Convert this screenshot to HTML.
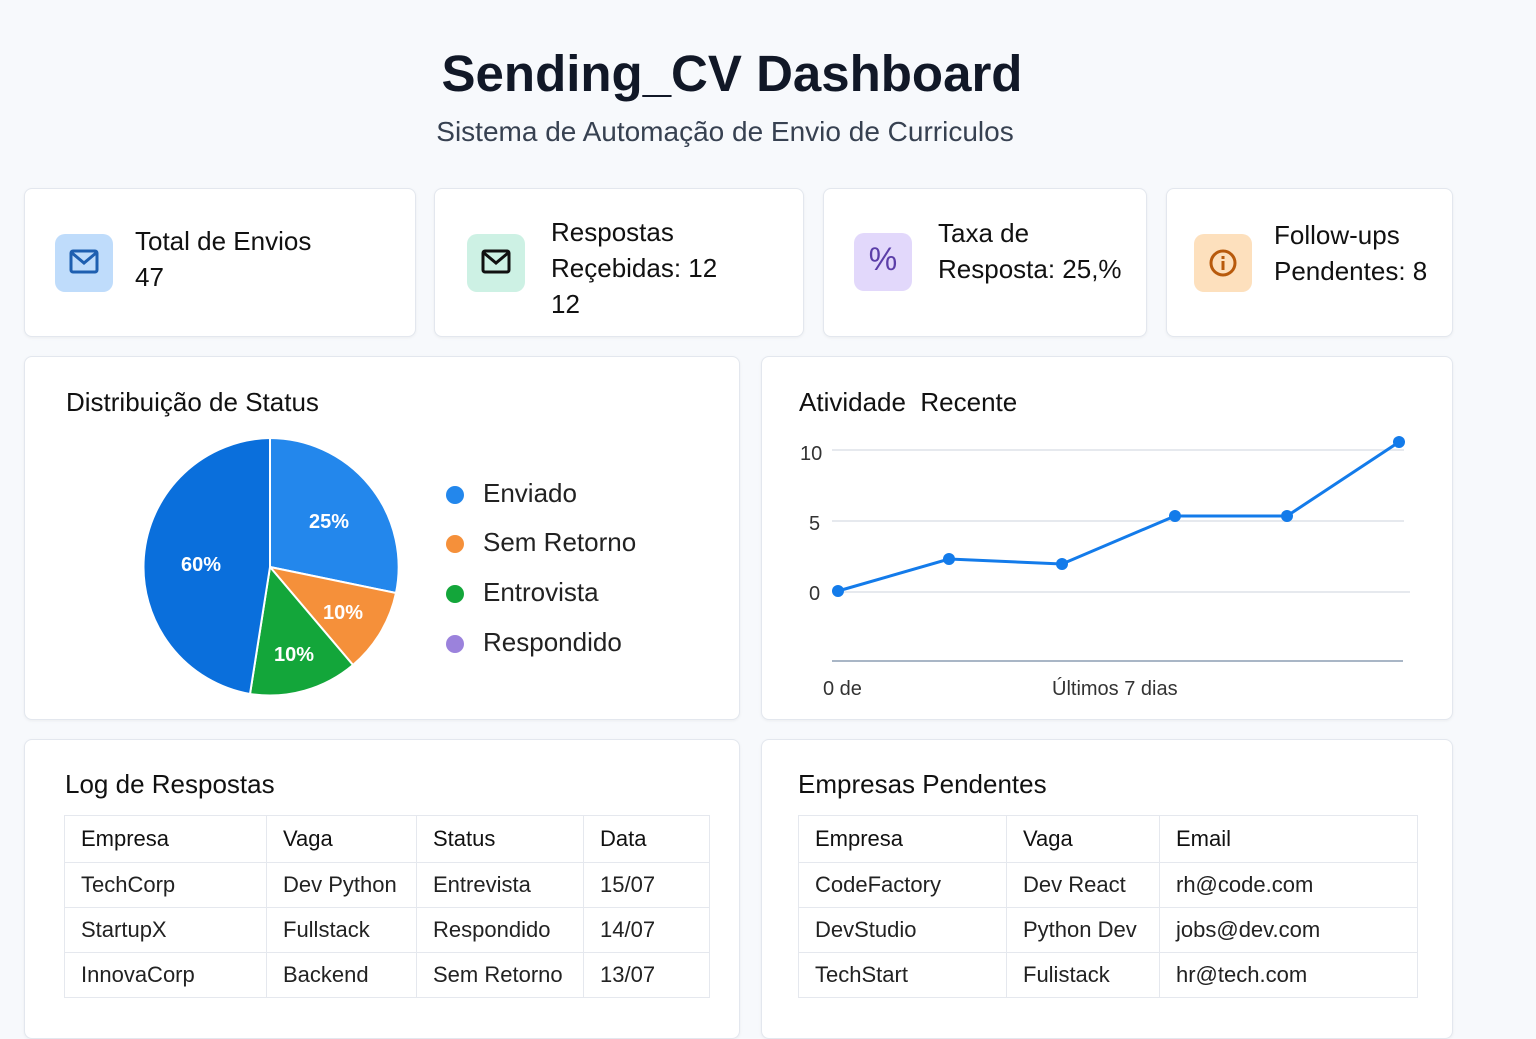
<!DOCTYPE html>
<html><head><meta charset="utf-8"><style>
*{box-sizing:border-box;margin:0;padding:0}
body{width:1536px;height:1024px;background:#f7f9fc;font-family:"Liberation Sans",sans-serif;color:#111827;position:relative;overflow:hidden}
.a{position:absolute}
.card{position:absolute;background:#fff;border:1px solid #e3e7ee;border-radius:8px;box-shadow:0 1px 3px rgba(0,0,0,.05)}
.ic{position:absolute;width:58px;height:58px;border-radius:10px}
.ct{position:absolute;font-size:26px;line-height:36px;color:#111}
h2{position:absolute;font-size:26px;font-weight:normal;color:#111}
table{position:absolute;border-collapse:collapse;font-size:22px;color:#222}
td,th{border:1px solid #e5e8ee;padding:0 16px;height:45px;text-align:left;font-weight:normal}
th{height:47px;color:#111}
.lg{position:absolute;font-size:26px;color:#222}
.lg i{position:absolute;left:-37px;top:8px;width:18px;height:18px;border-radius:50%}
</style></head><body>
<div class="a" style="left:0;top:44px;width:1464px;text-align:center;font-size:51px;font-weight:bold;color:#111827">Sending_CV Dashboard</div>
<div class="a" style="left:0;top:116px;width:1450px;text-align:center;font-size:28px;color:#374151">Sistema de Automação de Envio de Curriculos</div>

<div class="card" style="left:24px;top:188px;width:392px;height:149px">
<div class="ic" style="left:30px;top:45px;background:#bfdcfb"></div>
<svg class="a" style="left:44px;top:60px" width="30" height="26"><rect x="2" y="2" width="26" height="21" rx="2" fill="none" stroke="#1e5fb0" stroke-width="3"/><path d="M3 4 L15 14 L27 4" fill="none" stroke="#1e5fb0" stroke-width="3"/></svg>
<div class="ct" style="left:110px;top:34px">Total de Envios<br>47</div></div>

<div class="card" style="left:434px;top:188px;width:370px;height:149px">
<div class="ic" style="left:32px;top:45px;background:#cdf1e4"></div>
<svg class="a" style="left:46px;top:60px" width="30" height="26"><rect x="2" y="2" width="26" height="21" rx="2" fill="none" stroke="#111" stroke-width="3"/><path d="M3 4 L15 14 L27 4" fill="none" stroke="#111" stroke-width="3"/></svg>
<div class="ct" style="left:116px;top:25px">Respostas<br>Reçebidas: 12<br>12</div></div>

<div class="card" style="left:823px;top:188px;width:324px;height:149px">
<div class="ic" style="left:30px;top:44px;background:#e2d8fb"></div>
<div class="a" style="left:30px;top:52px;width:58px;text-align:center;font-size:32px;color:#5b3ea8">%</div>
<div class="ct" style="left:114px;top:26px">Taxa de<br>Resposta: 25,%</div></div>

<div class="card" style="left:1166px;top:188px;width:287px;height:149px">
<div class="ic" style="left:27px;top:45px;background:#fde0bd"></div>
<svg class="a" style="left:41px;top:59px" width="30" height="30"><circle cx="15" cy="15" r="12" fill="none" stroke="#b85a0c" stroke-width="3"/><rect x="13.5" y="13" width="3" height="9" fill="#b85a0c"/><rect x="13.5" y="8" width="3" height="3" fill="#b85a0c"/></svg>
<div class="ct" style="left:107px;top:28px">Follow-ups<br>Pendentes: 8</div></div>

<div class="card" style="left:24px;top:356px;width:716px;height:364px">
<h2 style="left:41px;top:30px">Distribuição de Status</h2></div>
<svg class="a" style="left:0;top:0" width="760" height="720">
<path d="M270 567 L270 438 A129 129 0 0 1 396 593 Z" fill="#2387ec" stroke="#fff" stroke-width="2"/>
<path d="M270 567 L396 593 A129 129 0 0 1 353 665 Z" fill="#f5903a" stroke="#fff" stroke-width="2"/>
<path d="M270 567 L353 665 A129 129 0 0 1 250 694 Z" fill="#13a63a" stroke="#fff" stroke-width="2"/>
<path d="M270 567 L250 694 A129 129 0 0 1 270 438 Z" fill="#0a6fdc" stroke="#fff" stroke-width="2"/>
<g font-family="Liberation Sans" font-weight="bold" font-size="20" fill="#fff">
<text x="309" y="528">25%</text><text x="323" y="619">10%</text><text x="274" y="661">10%</text><text x="181" y="571">60%</text></g></svg>
<div class="lg" style="left:483px;top:478px"><i style="background:#2387ec"></i>Enviado</div>
<div class="lg" style="left:483px;top:527px"><i style="background:#f5903a"></i>Sem Retorno</div>
<div class="lg" style="left:483px;top:577px"><i style="background:#13a63a"></i>Entrovista</div>
<div class="lg" style="left:483px;top:627px"><i style="background:#9b82dc"></i>Respondido</div>

<div class="card" style="left:761px;top:356px;width:692px;height:364px">
<h2 style="left:37px;top:30px">Atividade&nbsp; Recente</h2></div>
<svg class="a" style="left:0;top:0" width="1536" height="720">
<g stroke="#e6e9ee" stroke-width="2"><line x1="832" y1="450" x2="1404" y2="450"/><line x1="832" y1="521" x2="1404" y2="521"/><line x1="832" y1="592" x2="1410" y2="592"/></g>
<line x1="832" y1="661" x2="1403" y2="661" stroke="#a9b6c6" stroke-width="2"/>
<g font-family="Liberation Sans" font-size="20" fill="#333"><text x="800" y="460">10</text><text x="809" y="530">5</text><text x="809" y="600">0</text><text x="823" y="695">0 de</text><text x="1052" y="695">Últimos 7 dias</text></g>
<polyline points="838,591 949,559 1062,564 1175,516 1287,516 1399,442" fill="none" stroke="#137bea" stroke-width="3"/>
<g fill="#137bea"><circle cx="838" cy="591" r="6"/><circle cx="949" cy="559" r="6"/><circle cx="1062" cy="564" r="6"/><circle cx="1175" cy="516" r="6"/><circle cx="1287" cy="516" r="6"/><circle cx="1399" cy="442" r="6"/></g></svg>

<div class="card" style="left:24px;top:739px;width:716px;height:300px"><h2 style="left:40px;top:29px">Log de Respostas</h2></div>
<table style="left:64px;top:815px;width:646px">
<tr><th style="width:202px">Empresa</th><th style="width:150px">Vaga</th><th style="width:167px">Status</th><th>Data</th></tr>
<tr><td>TechCorp</td><td>Dev Python</td><td>Entrevista</td><td>15/07</td></tr>
<tr><td>StartupX</td><td>Fullstack</td><td>Respondido</td><td>14/07</td></tr>
<tr><td>InnovaCorp</td><td>Backend</td><td>Sem Retorno</td><td>13/07</td></tr></table>

<div class="card" style="left:761px;top:739px;width:692px;height:300px"><h2 style="left:36px;top:29px">Empresas Pendentes</h2></div>
<table style="left:798px;top:815px;width:620px">
<tr><th style="width:208px">Empresa</th><th style="width:153px">Vaga</th><th>Email</th></tr>
<tr><td>CodeFactory</td><td>Dev React</td><td>rh@code.com</td></tr>
<tr><td>DevStudio</td><td>Python Dev</td><td>jobs@dev.com</td></tr>
<tr><td>TechStart</td><td>Fulistack</td><td>hr@tech.com</td></tr></table>
</body></html>
